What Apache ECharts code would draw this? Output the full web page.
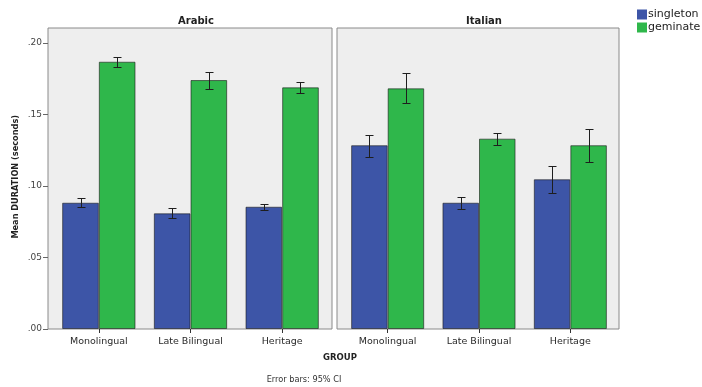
<!DOCTYPE html>
<html>
<head>
<meta charset="utf-8">
<script src="https://cdn.jsdelivr.net/npm/echarts@6/dist/echarts.min.js"></script>
<style>
  html, body { margin: 0; padding: 0; background: #ffffff; }
  #chart { width: 702px; height: 387px; }
</style>
</head>
<body>
<div id="chart"></div>
<script>
// Mean consonant duration by speaker group, split by language
const groups = ['Monolingual', 'Late Bilingual', 'Heritage'];
const panels = ['Arabic', 'Italian'];
const seriesNames = ['singleton', 'geminate'];

// Arabic means and 95% CI bounds (seconds)
const arabicSingleton = [0.0883, 0.0809, 0.0855];
const arabicSingletonLo = [0.0852, 0.0779, 0.0830];
const arabicSingletonHi = [0.0914, 0.0844, 0.0876];
const arabicGeminate = [0.1869, 0.1741, 0.1690];
const arabicGeminateLo = [0.1834, 0.1676, 0.1652];
const arabicGeminateHi = [0.1904, 0.1799, 0.1730];

// Italian means and 95% CI bounds (seconds)
const italianSingleton = [0.1285, 0.0883, 0.1047];
const italianSingletonLo = [0.1205, 0.0837, 0.0953];
const italianSingletonHi = [0.1357, 0.0925, 0.1142];
const italianGeminate = [0.1683, 0.1331, 0.1285];
const italianGeminateLo = [0.1578, 0.1285, 0.1166];
const italianGeminateHi = [0.1792, 0.1373, 0.1397];

const BLUE = '#3d55a7';
const GREEN = '#2fb74b';
const BAR_FRAC = 0.4;
const FONT = 'DejaVu Sans';

function errData(lo, hi, side) {
  return lo.map((v, i) => [i, v, hi[i], side]);
}

// Vertical CI line with caps, offset to the centre of the matching bar
function renderErr(params, api) {
  const cat = api.value(0);
  const lo = api.value(1);
  const hi = api.value(2);
  const side = api.value(3);
  const band = api.size([1, 0])[0];
  const bw = band * BAR_FRAC;
  const pLo = api.coord([cat, lo]);
  const pHi = api.coord([cat, hi]);
  const x = Math.round(pLo[0] + (side === 0 ? -bw / 2 : bw / 2)) + 0.5;
  const cap = 4;
  const style = { stroke: '#1e1e1e', lineWidth: 1 };
  const yHi = Math.round(pHi[1]) + 0.5;
  const yLo = Math.round(pLo[1]) + 0.5;
  return {
    type: 'group',
    children: [
      { type: 'line', shape: { x1: x, y1: yLo, x2: x, y2: yHi }, style },
      { type: 'line', shape: { x1: x - cap, y1: yHi, x2: x + cap, y2: yHi }, style },
      { type: 'line', shape: { x1: x - cap, y1: yLo, x2: x + cap, y2: yLo }, style }
    ]
  };
}

function barSeries(name, data, axisIdx, color) {
  return {
    name: name,
    type: 'bar',
    xAxisIndex: axisIdx,
    yAxisIndex: axisIdx,
    data: data,
    barWidth: (BAR_FRAC * 100) + '%',
    barGap: '0%',
    itemStyle: { color: color, borderColor: 'rgba(25,25,25,0.6)', borderWidth: 1 },
    emphasis: { disabled: true },
    z: 2
  };
}

function errSeries(name, lo, hi, side, axisIdx) {
  return {
    name: name + ' CI',
    type: 'custom',
    xAxisIndex: axisIdx,
    yAxisIndex: axisIdx,
    renderItem: renderErr,
    data: errData(lo, hi, side),
    silent: true,
    z: 5
  };
}

const panelGrid = {
  show: true,
  backgroundColor: '#eeeeee',
  borderColor: '#8a8a8a',
  borderWidth: 1
};

const labelFmt = v => v.toFixed(2).replace(/^0/, '');

function xAxisFor(gridIdx) {
  return {
    type: 'category',
    gridIndex: gridIdx,
    data: groups,
    axisLine: { show: false },
    axisTick: { show: true, alignWithLabel: true, length: 4, lineStyle: { color: '#333' } },
    axisLabel: { fontFamily: FONT, fontSize: 9.5, color: '#2a2a2a', margin: 8 }
  };
}

function yAxisFor(gridIdx, visible) {
  return {
    type: 'value',
    gridIndex: gridIdx,
    min: 0,
    max: 0.2,
    interval: 0.05,
    offset: 5,
    splitLine: { show: false },
    axisLine: { show: false },
    axisTick: { show: visible, length: 5, lineStyle: { color: '#666' } },
    axisLabel: { show: visible, fontFamily: FONT, fontSize: 9, color: '#444', margin: 6, formatter: labelFmt }
  };
}

const chart = echarts.init(document.getElementById('chart'), null, { renderer: 'canvas' });

chart.setOption({
  animation: false,
  backgroundColor: '#ffffff',
  title: [
    { text: panels[0], left: 191, top: 11, textAlign: 'center',
      textStyle: { fontFamily: FONT, fontSize: 10, fontWeight: 'bold', color: '#222' } },
    { text: panels[1], left: 479, top: 11, textAlign: 'center',
      textStyle: { fontFamily: FONT, fontSize: 10, fontWeight: 'bold', color: '#222' } },
    { text: 'GROUP', left: 335, top: 348, textAlign: 'center',
      textStyle: { fontFamily: FONT, fontSize: 8.5, fontWeight: 'bold', color: '#222' } },
    { text: 'Error bars: 95% CI', left: 299, top: 371, textAlign: 'center',
      textStyle: { fontFamily: FONT, fontSize: 8.2, fontWeight: 'normal', color: '#333' } }
  ],
  legend: {
    data: seriesNames,
    orient: 'vertical',
    left: 632,
    top: 4,
    itemWidth: 10,
    itemHeight: 10,
    itemGap: 2,
    icon: 'rect',
    itemStyle: { borderWidth: 0 },
    textStyle: { fontFamily: FONT, fontSize: 11, color: '#222', padding: [0, 0, 0, -4] }
  },
  graphic: [
    {
      type: 'text',
      left: 12,
      top: 115,
      rotation: Math.PI / 2,
      style: { text: 'Mean DURATION (seconds)', font: 'bold 8.2px "DejaVu Sans"', fill: '#222' }
    }
  ],
  grid: [
    Object.assign({ left: 48, top: 28, width: 284, height: 301 }, panelGrid),
    Object.assign({ left: 337, top: 28, width: 282, height: 301 }, panelGrid),
    { left: 53, top: 43, width: 275, height: 286, show: false },
    { left: 342, top: 43, width: 274, height: 286, show: false }
  ],
  xAxis: [xAxisFor(2), xAxisFor(3)],
  yAxis: [yAxisFor(2, true), yAxisFor(3, false)],
  series: [
    barSeries(seriesNames[0], arabicSingleton, 0, BLUE),
    barSeries(seriesNames[1], arabicGeminate, 0, GREEN),
    barSeries(seriesNames[0], italianSingleton, 1, BLUE),
    barSeries(seriesNames[1], italianGeminate, 1, GREEN),
    errSeries('arabic singleton', arabicSingletonLo, arabicSingletonHi, 0, 0),
    errSeries('arabic geminate', arabicGeminateLo, arabicGeminateHi, 1, 0),
    errSeries('italian singleton', italianSingletonLo, italianSingletonHi, 0, 1),
    errSeries('italian geminate', italianGeminateLo, italianGeminateHi, 1, 1)
  ]
});
</script>
</body>
</html>
